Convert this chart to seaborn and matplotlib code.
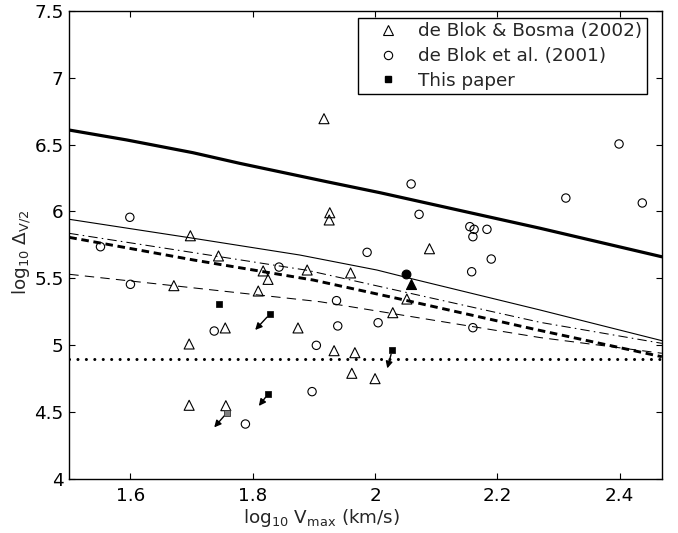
import numpy as np
import pandas as pd
import matplotlib
matplotlib.use("Agg")
import matplotlib.pyplot as plt
from matplotlib.lines import Line2D
import seaborn as sns

# ---------------- data ----------------
# de Blok & Bosma (2002) - open triangles
bb_x = [1.698, 1.744, 1.671, 1.809, 1.817, 1.825, 1.889, 1.755, 1.874, 1.696, 1.696, 1.756,
        1.9165, 1.926, 1.925, 2.089, 1.960, 2.052, 2.029, 1.933, 1.967, 1.962, 2.000]
bb_y = [5.818, 5.667, 5.445, 5.405, 5.555, 5.492, 5.562, 5.129, 5.129, 5.009, 4.551, 4.548,
        6.693, 5.990, 5.936, 5.721, 5.540, 5.345, 5.243, 4.959, 4.944, 4.790, 4.750]

# de Blok et al. (2001) - open circles
b01_x = [1.599, 1.551, 1.600, 1.843, 1.737, 1.904, 1.897, 1.788,
         2.059, 2.072, 2.155, 2.162, 2.160, 2.183, 1.987, 2.190, 2.158, 1.937, 1.939, 2.005, 2.160,
         2.399, 2.312, 2.437]
b01_y = [5.956, 5.736, 5.455, 5.584, 5.106, 4.999, 4.653, 4.411,
         6.205, 5.978, 5.886, 5.866, 5.811, 5.866, 5.694, 5.644, 5.549, 5.333, 5.144, 5.168, 5.131,
         6.504, 6.100, 6.063]

# highlighted objects (filled circle / filled triangle)
fc_x, fc_y = [2.051], [5.530]
ft_x, ft_y = [2.058], [5.460]

# This paper - filled squares (black), with upper-limit arrows
tp_x = [1.744, 1.828, 1.825, 2.028]
tp_y = [5.306, 5.233, 4.635, 4.962]
tp_arrow_x = [None, 1.804, 1.810, 2.020]
tp_arrow_y = [None, 5.114, 4.546, 4.827]
# grey square with arrow
gs_x, gs_y = [1.758], [4.496]
gs_arrow_x, gs_arrow_y = [1.737], [4.386]

# model curves
thick_x = [1.5, 1.594, 1.702, 1.779, 1.921, 2.008, 2.270, 2.469]
thick_y = [6.608, 6.534, 6.439, 6.359, 6.222, 6.140, 5.874, 5.661]
thin_x = [1.5, 1.703, 1.877, 2.003, 2.057, 2.270, 2.469]
thin_y = [5.941, 5.799, 5.674, 5.562, 5.500, 5.263, 5.034]
tdash_x = [1.5, 1.703, 1.899, 2.041, 2.259, 2.469]
tdash_y = [5.806, 5.637, 5.487, 5.345, 5.121, 4.914]
dashdot_x = [1.5, 1.889, 2.270, 2.469]
dashdot_y = [5.836, 5.560, 5.171, 5.014]
dash_x = [1.5, 1.910, 2.270, 2.469]
dash_y = [5.530, 5.325, 5.057, 4.940]
dot_x = [1.5, 2.47]
dot_y = [4.9, 4.9]

xticks = [1.6, 1.8, 2.0, 2.2, 2.4]
xticklabels = ["1.6", "1.8", "2", "2.2", "2.4"]
yticks = [4, 4.5, 5, 5.5, 6, 6.5, 7, 7.5]
yticklabels = ["4", "4.5", "5", "5.5", "6", "6.5", "7", "7.5"]

legend_labels = ["de Blok & Bosma (2002)", "de Blok et al. (2001)", "This paper"]

# ---------------- style ----------------
FS = 13.2
sns.set_style("ticks")
plt.rcParams['font.family'] = ['DejaVu Sans']
plt.rcParams['mathtext.fontset'] = 'custom'
plt.rcParams['mathtext.rm'] = 'DejaVu Sans'
plt.rcParams['mathtext.it'] = 'DejaVu Sans'
plt.rcParams['mathtext.bf'] = 'DejaVu Sans'

fig = plt.figure(figsize=(6.78, 5.33), dpi=100)
ax = fig.add_axes([0.1022, 0.1013, 0.8738, 0.8786])

# lines
sns.lineplot(x=thick_x, y=thick_y, ax=ax, color='k', lw=2.3, sort=False, estimator=None)
sns.lineplot(x=thin_x, y=thin_y, ax=ax, color='k', lw=0.8, sort=False, estimator=None)
sns.lineplot(x=tdash_x, y=tdash_y, ax=ax, color='k', lw=2.1, sort=False, estimator=None,
             linestyle=(0, (2.6, 1.6)))
sns.lineplot(x=dashdot_x, y=dashdot_y, ax=ax, color='k', lw=0.75, sort=False, estimator=None,
             linestyle=(0, (9, 4, 1.5, 4)))
sns.lineplot(x=dash_x, y=dash_y, ax=ax, color='k', lw=0.75, sort=False, estimator=None,
             linestyle=(0, (9, 6)))
sns.lineplot(x=dot_x, y=dot_y, ax=ax, color='k', lw=2.2, sort=False, estimator=None)
dotline = ax.lines[-1]
dotline.set_linestyle((0, (0.01, 2.75)))
dotline.set_dash_capstyle('round')

# markers
sns.scatterplot(x=bb_x, y=bb_y, ax=ax, marker='^', s=52, fc='none', ec='k', linewidth=0.8, zorder=5)
sns.scatterplot(x=b01_x, y=b01_y, ax=ax, marker='o', s=36, fc='none', ec='k', linewidth=0.8, zorder=5)
sns.scatterplot(x=fc_x, y=fc_y, ax=ax, marker='o', s=40, fc='k', ec='k', linewidth=0.8, zorder=5)
sns.scatterplot(x=ft_x, y=ft_y, ax=ax, marker='^', s=52, fc='k', ec='k', linewidth=0.8, zorder=5)
sns.scatterplot(x=tp_x, y=tp_y, ax=ax, marker='s', s=25, fc='k', ec='k', linewidth=0.5, zorder=6)
sns.scatterplot(x=gs_x, y=gs_y, ax=ax, marker='s', s=25, fc='#808080', ec='#333333', linewidth=0.6, zorder=6)

# arrows (upper limits)
for x0, y0, x1, y1 in zip(tp_x + gs_x, tp_y + gs_y, tp_arrow_x + gs_arrow_x, tp_arrow_y + gs_arrow_y):
    if x1 is None:
        continue
    ax.annotate('', xy=(x1, y1), xytext=(x0, y0),
                arrowprops=dict(arrowstyle='-|>', color='k', lw=1.0, shrinkA=3, shrinkB=0,
                                mutation_scale=10), zorder=4)

ax.set_xlim(1.5, 2.4688)
ax.set_ylim(4, 7.5)
ax.set_xticks(xticks)
ax.set_xticklabels(xticklabels)
ax.set_yticks(yticks)
ax.set_yticklabels(yticklabels)
ax.tick_params(direction='in', length=4, width=0.8, top=True, right=True,
               labelsize=FS, colors='k')
ax.tick_params(axis='x', pad=5.5)
ax.tick_params(axis='y', pad=4)
for sp in ax.spines.values():
    sp.set_visible(True)
    sp.set_linewidth(1.0)
    sp.set_color('k')

ax.set_xlabel(r'log$_{10}$ V$_{\mathrm{max}}$ (km/s)', fontsize=FS)
ax.set_ylabel(r'log$_{10}$ Δ$_{\mathrm{V/2}}$', fontsize=FS)
ax.xaxis.set_label_coords(0.425, -0.06)
ax.yaxis.set_label_coords(-0.062, 0.483)

handles = [
    Line2D([], [], marker='^', ls='', mfc='none', mec='k', ms=7, mew=0.8),
    Line2D([], [], marker='o', ls='', mfc='none', mec='k', ms=6, mew=0.8),
    Line2D([], [], marker='s', ls='', mfc='k', mec='k', ms=5),
]
leg = ax.legend(handles, legend_labels, loc='upper left', bbox_to_anchor=(0.4868, 0.985),
                borderaxespad=0, fontsize=FS, frameon=True, fancybox=False, framealpha=1,
                edgecolor='k', handlelength=2.78, handletextpad=0.26, borderpad=0.25,
                labelspacing=0.37)
leg.get_frame().set_linewidth(1.0)

fig.savefig('out.png', dpi=100)
